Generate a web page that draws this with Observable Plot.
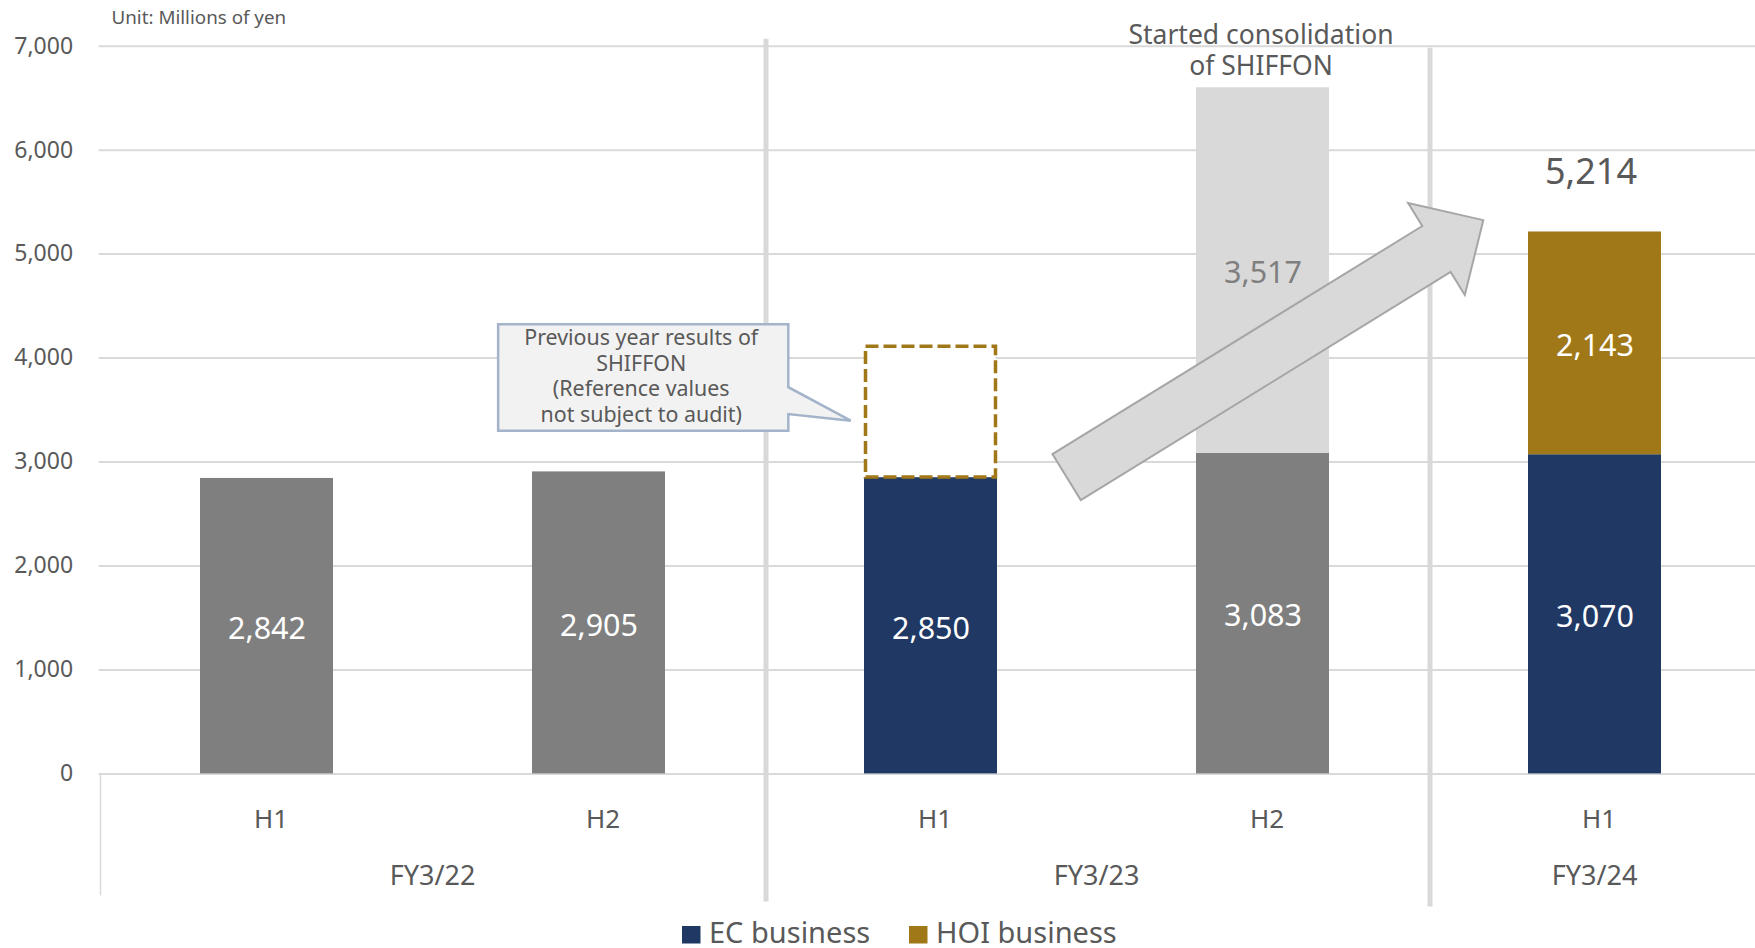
<!DOCTYPE html>
<html>
<head>
<meta charset="utf-8">
<script src="https://cdn.jsdelivr.net/npm/d3@7"></script>
<script src="https://cdn.jsdelivr.net/npm/@observablehq/plot@0.6"></script>
<style>
  html, body { margin: 0; padding: 0; background: #ffffff; overflow: hidden; }
  #chart svg { display: block; }
</style>
</head>
<body>
<div id="chart"></div>
<script>
// ---------------- data ----------------
const periods      = ["H1", "H2", "H1", "H2", "H1"];
const fiscalYears  = ["FY3/22", "FY3/22", "FY3/23", "FY3/23", "FY3/24"];
const totalSales      = [2842, 2905, null, 3083, null];   // grey bars
const ecBusiness      = [null, null, 2850, null, 3070];
const hoiBusiness     = [null, null, null, null, 2143];
const shiffonSales    = [null, null, null, 3517, null];   // light grey
const shiffonPrevYear = [null, null, 1260, null, null];   // dashed (reference)
const totalLabels     = [null, null, null, null, 5214];
const yTicks = [0, 1000, 2000, 3000, 4000, 5000, 6000, 7000];
const legendItems = ["EC business", "HOI business"];
const unitText = "Unit: Millions of yen";
const calloutLines = ["Previous year results of", "SHIFFON", "(Reference values", "not subject to audit)"];
const consolidationLines = ["Started consolidation", "of SHIFFON"];

// ---------------- styling ----------------
const seriesNames  = ["Sales", "EC business", "HOI business", "SHIFFON"];
const seriesValues = [totalSales, ecBusiness, hoiBusiness, shiffonSales];
const seriesFill  = {"Sales": "#7f7f7f", "EC business": "#203864", "HOI business": "#a17817", "SHIFFON": "#d9d9d9"};
const labelFill   = {"Sales": "#ffffff", "EC business": "#ffffff", "HOI business": "#ffffff", "SHIFFON": "#7f7f7f"};
const TEXT = "#595959", GRID = "#d9d9d9";
const FONT = "'Noto Sans', 'Open Sans', sans-serif";

const W = 1755, H = 948;
const fmt = d3.format(",");
const keys = periods.map((p, i) => `${fiscalYears[i]} ${p}`);

// stacked rows
const rows = [];
const stackTop = [];
keys.forEach((key, i) => {
  let base = 0;
  seriesNames.forEach((s, j) => {
    const v = seriesValues[j][i];
    if (v == null) return;
    rows.push({key, series: s, value: v, y1: base, y2: base + v});
    base += v;
  });
  stackTop.push(base);
});
const dashedRows = keys.map((key, i) => shiffonPrevYear[i] == null ? null :
  {key, y1: stackTop[i], y2: stackTop[i] + shiffonPrevYear[i]}).filter(Boolean);
const totalRows = keys.map((key, i) => totalLabels[i] == null ? null :
  {key, value: totalLabels[i]}).filter(Boolean);
const catRows = keys.map((key, i) => ({key, period: periods[i], year: fiscalYears[i]}));

const chart = Plot.plot({
  width: W, height: H,
  marginLeft: 98.6, marginRight: 0, marginTop: 45.7, marginBottom: 174.6,
  style: {fontFamily: FONT, background: "#ffffff"},
  x: {domain: keys, range: [98.6, 1762.4], paddingInner: 0.6, paddingOuter: 0.3, axis: null},
  y: {domain: [0, 7000]},
  marks: [
    Plot.ruleY(yTicks, {stroke: GRID, strokeWidth: 2}),
    ...seriesNames.map(s => Plot.barY(rows.filter(d => d.series === s),
      {x: "key", y1: "y1", y2: "y2", fill: seriesFill[s]})),
    Plot.barY(dashedRows, {x: "key", y1: "y1", y2: "y2", fill: "#ffffff", stroke: "#a17817",
      strokeWidth: 3.5, strokeDasharray: "13,5", insetLeft: 1.5, insetRight: 1.5}),
    ...seriesNames.map(s => Plot.text(rows.filter(d => d.series === s),
      {x: "key", y: d => (d.y1 + d.y2) / 2, dy: 3, text: d => fmt(d.value), fill: labelFill[s], fontSize: 30.5})),
    Plot.text(totalRows, {x: "key", y: "value", dy: -59, dx: -4, text: d => fmt(d.value), fill: TEXT, fontSize: 36}),
    Plot.text(catRows, {x: "key", y: () => 0, dy: 46, dx: 4, text: "period", fill: TEXT, fontSize: 26}),
    Plot.axisY({ticks: yTicks, tickFormat: d => fmt(d), tickSize: 0, tickPadding: 26, fontSize: 23, fill: TEXT, label: null})
  ]
});

document.getElementById("chart").appendChild(chart);

// ---------------- annotations positioned from the scales ----------------
const svg = d3.select(chart);
const xs = chart.scale("x"), ys = chart.scale("y");
const X = k => xs.apply(k);
const BW = xs.bandwidth, STEP = xs.step;
const gap = (STEP - BW) / 2;
const Y = v => ys.apply(v);
const y0 = Y(0), yTop = Y(7000);

const ann = svg.append("g").attr("font-family", FONT).attr("text-anchor", "start");

// left axis line
ann.append("line").attr("x1", X(keys[0]) - gap).attr("x2", X(keys[0]) - gap)
  .attr("y1", y0).attr("y2", y0 + 122).attr("stroke", GRID).attr("stroke-width", 1.5);

// year separators
const sepSpecs = [{i: 2, top: yTop - 7, bottom: y0 + 128}, {i: 4, top: yTop + 2, bottom: y0 + 133}];
sepSpecs.forEach(s => {
  const x = X(keys[s.i]) - gap + 1.5;
  ann.append("line").attr("x1", x).attr("x2", x).attr("y1", s.top).attr("y2", s.bottom)
    .attr("stroke", GRID).attr("stroke-width", 5);
});

// fiscal year labels
const years = [...new Set(fiscalYears)];
years.forEach(yr => {
  const idx = keys.filter((k, i) => fiscalYears[i] === yr);
  const cx = (X(idx[0]) + X(idx[idx.length - 1]) + BW) / 2;
  ann.append("text").attr("x", cx).attr("y", y0 + 102.6).attr("dy", "0.35em")
    .attr("text-anchor", "middle").attr("font-size", 27).attr("fill", TEXT).text(yr);
});

// unit label
ann.append("text").attr("x", X(keys[0]) - gap + 11).attr("y", 17).attr("dy", "0.35em")
  .attr("text-anchor", "start").attr("font-size", 18.8).attr("fill", TEXT).text(unitText);

// "Started consolidation of SHIFFON"
const c4 = X(keys[3]) + BW / 2;
consolidationLines.forEach((t, i) => {
  ann.append("text").attr("x", c4 - 1.5).attr("y", yTop - 11 + i * 31.5).attr("dy", "0.35em")
    .attr("text-anchor", "middle").attr("font-size", 26.5).attr("fill", TEXT).text(t);
});

// big arrow from H1 FY3/23 to H1 FY3/24
{
  const T = [X(keys[2]) + BW / 2 + 0.41 * STEP, Y(ecBusiness[2])];
  const P = [X(keys[4]) + BW / 2 - 0.335 * STEP, Y(totalLabels[4] + 108)];
  const dx = P[0] - T[0], dy = P[1] - T[1], len = Math.hypot(dx, dy);
  const u = [dx / len, dy / len], n = [-u[1], u[0]];
  const w = 27, h = 54, L = 55;
  const B = [P[0] - L * u[0], P[1] - L * u[1]];
  const pt = (p, k) => [p[0] + n[0] * k, p[1] + n[1] * k];
  const poly = [pt(T, w), pt(B, w), pt(B, h), P, pt(B, -h), pt(B, -w), pt(T, -w)];
  ann.append("path").attr("d", "M" + poly.map(p => p.join(",")).join("L") + "Z")
    .attr("fill", "#d9d9d9").attr("stroke", "#a6a6a6").attr("stroke-width", 2).attr("stroke-linejoin", "miter");
}

// callout box
{
  const bs = X(keys[2]);
  const L = bs - 1.102 * STEP, R = bs - 0.228 * STEP;
  const T = Y(4320), B = Y(3295);
  const j1 = Y(3715), j2 = Y(3457);
  const tip = [bs - 0.04 * STEP, Y(3393)];
  const d = `M${L},${T}L${R},${T}L${R},${j1}L${tip[0]},${tip[1]}L${R},${j2}L${R},${B}L${L},${B}Z`;
  ann.append("path").attr("d", d).attr("fill", "#f2f2f2").attr("stroke", "#a3b3c9").attr("stroke-width", 2.5);
  const cx = (L + R) / 2, cy = (T + B) / 2 - 1.5, lh = 25.5;
  calloutLines.forEach((t, i) => {
    ann.append("text").attr("x", cx - 2).attr("y", cy + (i - 1.5) * lh).attr("dy", "0.35em")
      .attr("text-anchor", "middle").attr("font-size", 21.4).attr("fill", TEXT).text(t);
  });
}

// legend
{
  const legendColors = {"EC business": seriesFill["EC business"], "HOI business": seriesFill["HOI business"]};
  const starts = [682, 909];
  legendItems.forEach((name, i) => {
    const x = starts[i];
    ann.append("rect").attr("x", x).attr("y", 926).attr("width", 18.5).attr("height", 17.5)
      .attr("fill", legendColors[name]);
    ann.append("text").attr("x", x + 27).attr("y", 943).attr("text-anchor", "start").attr("font-size", 29)
      .attr("fill", TEXT).text(name);
  });
}
</script>
</body>
</html>
